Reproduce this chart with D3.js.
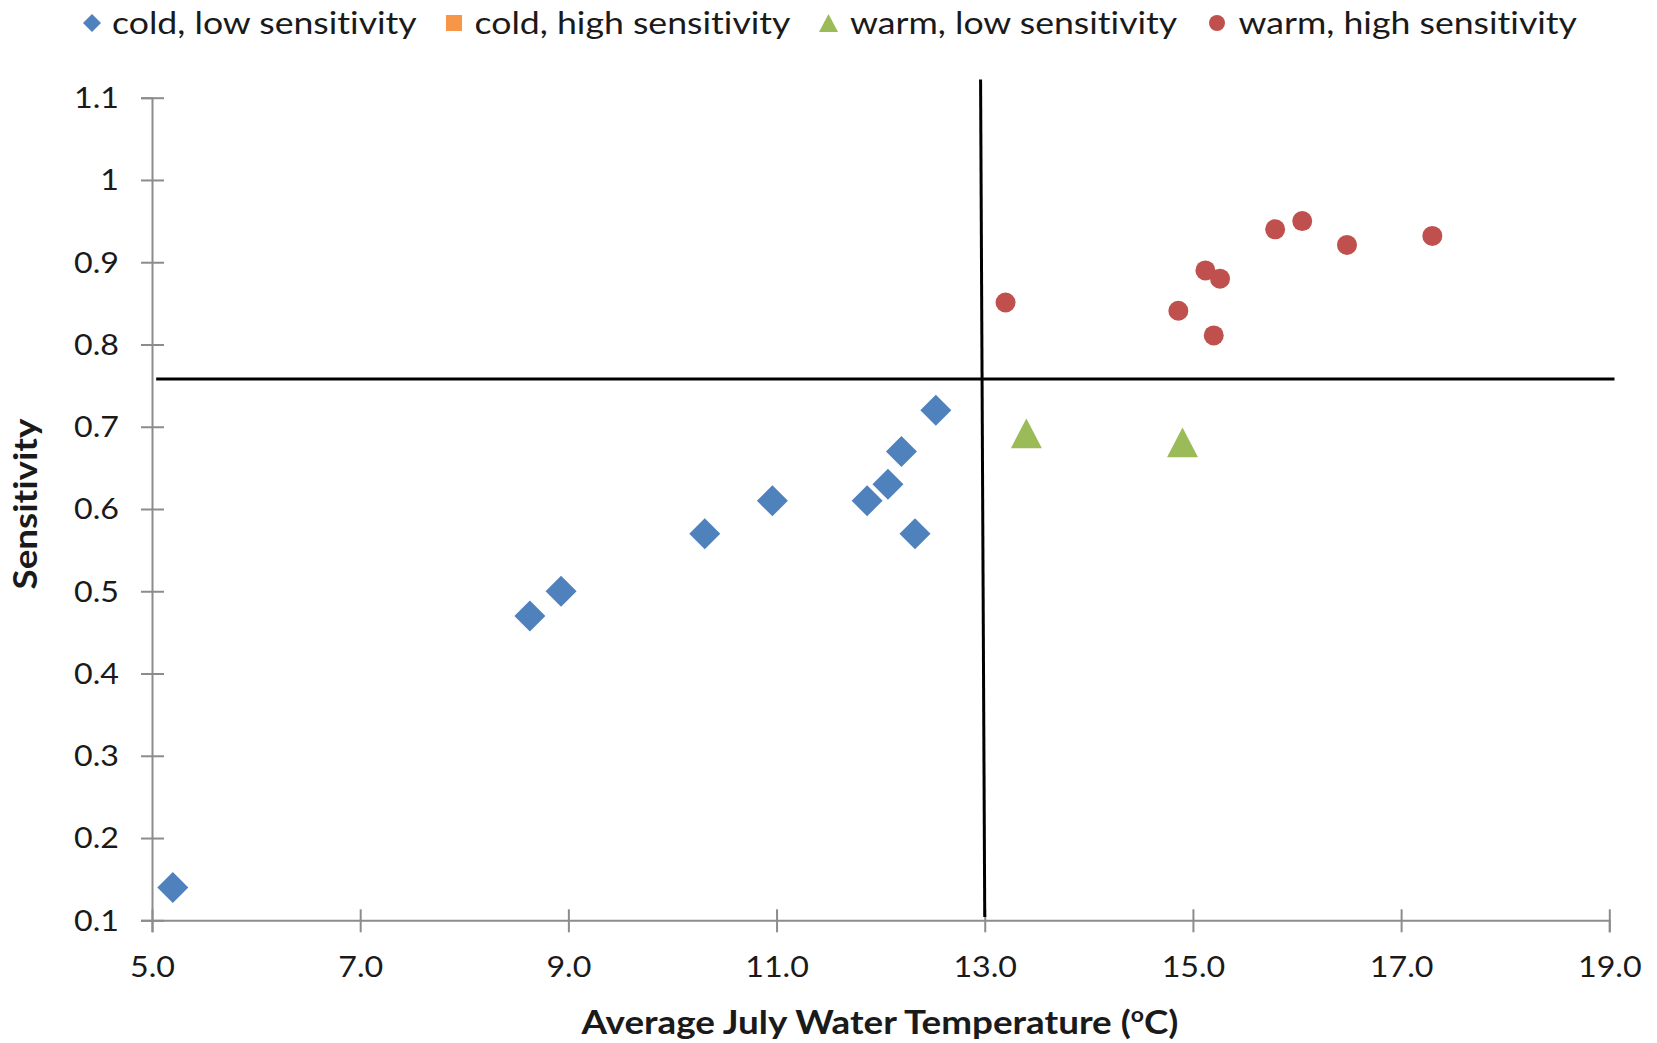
<!DOCTYPE html>
<html>
<head>
<meta charset="utf-8">
<script src="https://cdn.jsdelivr.net/npm/d3@7"></script>
<style>
  body { margin: 0; background: #fff; }
  svg text { font-family: Lato, "Open Sans", sans-serif; fill: #1a1a1a; font-variant-ligatures: none; }
</style>
</head>
<body>
<svg width="1657" height="1043"></svg>
<script>
// series: average July water temperature (°C) vs sensitivity
const coldLowTemp = [5.2, 8.63, 8.93, 10.31, 10.96, 11.87, 12.07, 12.20, 12.33, 12.53];
const coldLowSens = [0.14, 0.47, 0.50, 0.57, 0.61, 0.61, 0.63, 0.67, 0.57, 0.72];
const coldHighTemp = [];
const coldHighSens = [];
const warmLowTemp = [13.40, 14.90];
const warmLowSens = [0.692, 0.681];
const warmHighTemp = [13.20, 14.86, 15.12, 15.26, 15.20, 15.79, 16.05, 16.48, 17.30];
const warmHighSens = [0.851, 0.841, 0.890, 0.880, 0.811, 0.940, 0.950, 0.921, 0.932];

// quadrant divider lines
const vLineTemp = [12.96, 13.0];
const vLineSens = [1.122, 0.104];
const hLineTemp = [5.04, 19.05];
const hLineSens = [0.758, 0.758];

const xTicks = [5, 7, 9, 11, 13, 15, 17, 19];
const yTicks = [0.1, 0.2, 0.3, 0.4, 0.5, 0.6, 0.7, 0.8, 0.9, 1, 1.1];

const seriesNames = ['cold, low sensitivity', 'cold, high sensitivity', 'warm, low sensitivity', 'warm, high sensitivity'];
const seriesColors = ['#4f81bd', '#f79646', '#9bbb59', '#c0504d'];

const svg = d3.select('svg');

const x = d3.scaleLinear().domain([5, 19]).range([152, 1609.3]);
const y = d3.scaleLinear().domain([0.1, 1.1]).range([920.3, 97.7]);

// the original text is a bit wider than Lato
const stretch = 'scale(1.15,1)';

// excel-like marker shapes
const diamond = {
  draw(ctx, size) {
    const r = Math.sqrt(size) / 2;
    ctx.moveTo(0, -r); ctx.lineTo(r, 0); ctx.lineTo(0, r); ctx.lineTo(-r, 0); ctx.closePath();
  }
};
const triangle = {
  draw(ctx, size) {
    const w = Math.sqrt(size) / 2, h = Math.sqrt(size) * 0.48;
    ctx.moveTo(0, -h); ctx.lineTo(w, h); ctx.lineTo(-w, h); ctx.closePath();
  }
};
const square = {
  draw(ctx, size) {
    const r = Math.sqrt(size) / 2;
    ctx.rect(-r, -r, 2 * r, 2 * r);
  }
};
const shapes = [diamond, square, triangle, d3.symbolCircle];
const plotSizes = [31 * 31, 24 * 24, 31 * 31, Math.PI * 10 * 10];
const legendSizes = [18 * 18, 16 * 16, 19 * 19, Math.PI * 8 * 8];

// axes
const axisColor = '#8c8c8c';
const gx = svg.append('g')
  .attr('transform', `translate(0,${y(0.1)})`)
  .call(d3.axisBottom(x).tickValues(xTicks).tickSizeOuter(0).tickSize(12).tickFormat(d3.format('.1f')));
gx.selectAll('.tick line').attr('y1', -11);
gx.selectAll('.tick text').attr('y', null).attr('dy', '0.35em')
  .attr('transform', `translate(0,47) ${stretch}`);

const gy = svg.append('g')
  .attr('transform', `translate(${x(5)},0)`)
  .call(d3.axisLeft(y).tickValues(yTicks).tickSizeOuter(0).tickSize(11).tickFormat(d => String(+d.toFixed(1))));
gy.selectAll('.tick line').attr('x1', 12);
gy.selectAll('.tick text').attr('x', null).attr('dy', '0.35em')
  .attr('transform', `translate(-33,0) ${stretch}`);

svg.selectAll('.domain, .tick line').attr('stroke', axisColor).attr('stroke-width', 2);
svg.selectAll('.tick text').attr('font-size', 28).attr('font-family', 'Lato').attr('fill', '#222');

// divider lines
const line = d3.line().x(d => x(d[0])).y(d => y(d[1]));
svg.append('path')
  .attr('d', line(d3.zip(vLineTemp, vLineSens)))
  .attr('stroke', '#000').attr('stroke-width', 3).attr('fill', 'none');
svg.append('path')
  .attr('d', line(d3.zip(hLineTemp, hLineSens)))
  .attr('stroke', '#000').attr('stroke-width', 3).attr('fill', 'none');

// points
const series = [
  [coldLowTemp, coldLowSens],
  [coldHighTemp, coldHighSens],
  [warmLowTemp, warmLowSens],
  [warmHighTemp, warmHighSens]
];
series.forEach(([xs, ys], i) => {
  svg.append('g')
    .selectAll('path')
    .data(d3.zip(xs, ys))
    .join('path')
    .attr('transform', d => `translate(${x(d[0])},${y(d[1])})`)
    .attr('d', d3.symbol().type(shapes[i]).size(plotSizes[i]))
    .attr('fill', seriesColors[i]);
});

// axis titles
const xTitle = svg.append('text')
  .attr('transform', `translate(880,1023) ${stretch}`)
  .attr('dy', '0.35em')
  .attr('text-anchor', 'middle')
  .attr('font-size', 32).attr('font-weight', 'bold');
xTitle.append('tspan').text('Average July Water Temperature (');
xTitle.append('tspan').text('o').attr('font-size', 20).attr('dy', '-0.6em');
xTitle.append('tspan').text('C)').attr('dy', '0.38em');

svg.append('text')
  .attr('transform', `translate(26,504) rotate(-90) ${stretch}`)
  .attr('dy', '0.35em')
  .attr('text-anchor', 'middle')
  .attr('font-size', 32).attr('font-weight', 'bold')
  .text('Sensitivity');

// legend
const legendMarkX = [92, 454, 828.5, 1217];
const legendTextX = [112, 474.5, 850, 1238.5];
const legend = svg.append('g');
seriesNames.forEach((name, i) => {
  legend.append('path')
    .attr('transform', `translate(${legendMarkX[i]},23)`)
    .attr('d', d3.symbol().type(shapes[i]).size(legendSizes[i]))
    .attr('fill', seriesColors[i]);
  legend.append('text')
    .attr('transform', `translate(${legendTextX[i]},23) ${stretch}`)
    .attr('dy', '0.35em')
    .attr('font-size', 31)
    .text(name);
});
</script>
</body>
</html>
